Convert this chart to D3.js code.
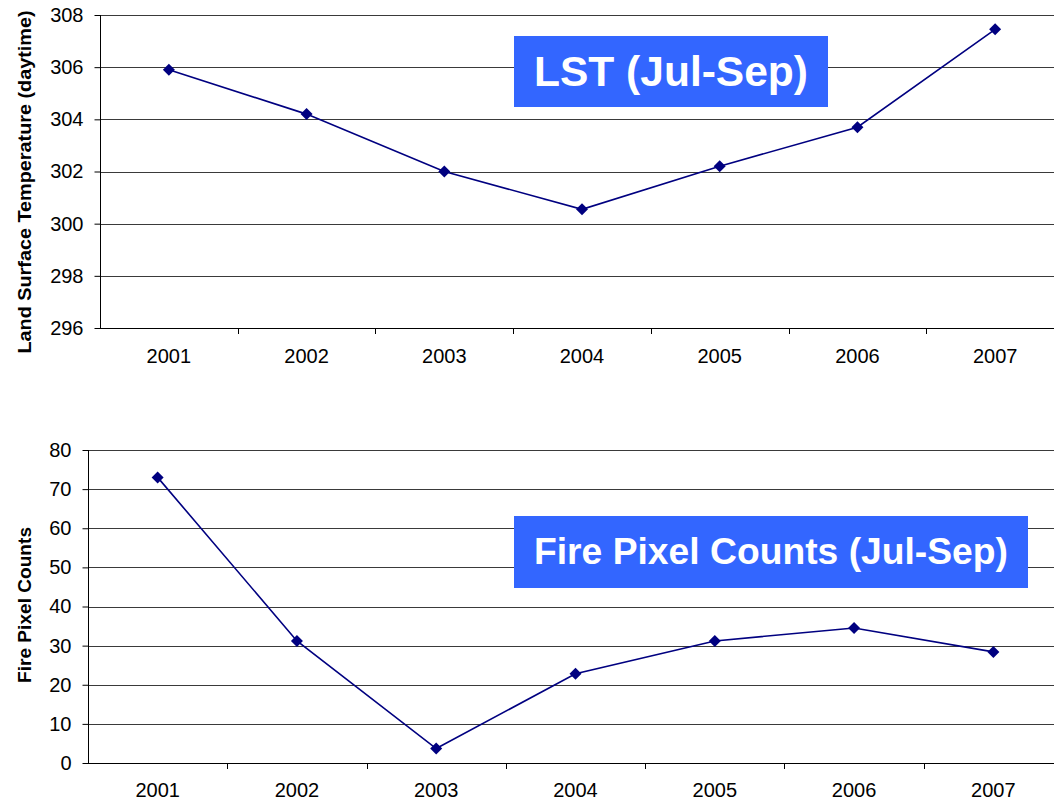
<!DOCTYPE html>
<html><head><meta charset="utf-8">
<script src="https://cdn.jsdelivr.net/npm/d3@7"></script>
<style>body{margin:0;background:#fff;overflow:hidden}</style>
</head><body>
<svg id="c" width="1054" height="805"></svg>
<script>
const years = ["2001","2002","2003","2004","2005","2006","2007"];
const lstValues = [305.9, 304.2, 302.0, 300.55, 302.2, 303.7, 307.45];
const fireValues = [73.0, 31.2, 3.7, 22.8, 31.2, 34.5, 28.4];
const lstTicks = [296, 298, 300, 302, 304, 306, 308];
const fireTicks = [0, 10, 20, 30, 40, 50, 60, 70, 80];

const svg = d3.select("#c");
const FONT = "'Liberation Sans', Arial, sans-serif";

function panel(opt) {
  const x = d3.scaleBand().domain(years).range([opt.left, opt.right]);
  const y = d3.scaleLinear().domain(opt.domain).range([opt.bottom, opt.top]);
  const g = svg.append("g");
  // gridlines
  g.selectAll("line.grid").data(opt.ticks.filter(t => t !== opt.domain[0])).join("line")
    .attr("x1", opt.left).attr("x2", opt.right)
    .attr("y1", d => Math.round(y(d)) + 0.5).attr("y2", d => Math.round(y(d)) + 0.5)
    .attr("stroke", "#3a3a3a").attr("stroke-width", 1);
  // y axis
  const ya = g.append("g").attr("transform", `translate(${opt.left + 0.5},0)`)
    .call(d3.axisLeft(y).tickValues(opt.ticks).tickSize(6).tickPadding(11).tickFormat(d3.format("d")));
  ya.select(".domain").attr("stroke", "#000").attr("d", `M0,${opt.bottom}V${opt.top}`);
  ya.selectAll(".tick line").attr("stroke", "#000");
  ya.selectAll("text").attr("font-family", FONT).attr("font-size", 20).attr("fill", "#000");
  // x axis
  const xa = g.append("g").attr("transform", `translate(0,${Math.round(opt.bottom) + 0.5})`)
    .call(d3.axisBottom(x).tickSize(0).tickPadding(opt.xPad));
  xa.select(".domain").attr("stroke", "#000").attr("stroke-width", 1.2).attr("d", `M${opt.left},0H${opt.right}`);
  xa.selectAll("text").attr("font-family", FONT).attr("font-size", 20).attr("fill", "#000");
  // x tick marks at band boundaries
  g.selectAll("line.xt").data(years.slice(1)).join("line")
    .attr("x1", d => Math.round(x(d)) + 0.5).attr("x2", d => Math.round(x(d)) + 0.5)
    .attr("y1", opt.bottom).attr("y2", opt.bottom + 6)
    .attr("stroke", "#000");
  // line
  const cx = d => x(d) + x.bandwidth() / 2;
  g.append("path").datum(opt.values)
    .attr("d", d3.line().x((d, i) => cx(years[i])).y(d => y(d)))
    .attr("fill", "none").attr("stroke", "#000080").attr("stroke-width", 1.6);
  g.selectAll("path.m").data(opt.values).join("path")
    .attr("d", d3.symbol(d3.symbolSquare, 72))
    .attr("transform", (d, i) => `translate(${cx(years[i])},${y(d)}) rotate(45)`)
    .attr("fill", "#000080");
  // y title
  g.append("text").attr("transform", `translate(${opt.titleX},${opt.titleY}) rotate(-90)`)
    .attr("text-anchor", "middle").attr("font-family", FONT).attr("font-weight", "bold")
    .attr("font-size", 19).attr("fill", "#000")
    .attr("textLength", opt.titleLen).attr("lengthAdjust", "spacingAndGlyphs")
    .text(opt.title);
  // label box
  g.append("rect").attr("x", opt.box[0]).attr("y", opt.box[1]).attr("width", opt.box[2]).attr("height", opt.box[3])
    .attr("fill", "#3366FF");
  g.append("text").attr("x", opt.box[0] + opt.box[2] / 2).attr("y", opt.labelY)
    .attr("text-anchor", "middle").attr("font-family", FONT).attr("font-weight", "bold")
    .attr("font-size", opt.labelSize).attr("fill", "#fff")
    .attr("textLength", opt.labelLen).attr("lengthAdjust", "spacingAndGlyphs")
    .text(opt.label);
}

panel({left: 100, right: 1064, top: 15, bottom: 328, domain: [296, 308], ticks: lstTicks,
  values: lstValues, xPad: 20, title: "Land Surface Temperature (daytime)",
  titleX: 31, titleY: 182, titleLen: 343, box: [514, 36, 314, 71], label: "LST (Jul-Sep)",
  labelY: 86, labelSize: 42, labelLen: 274});
panel({left: 88, right: 1063, top: 450, bottom: 763, domain: [0, 80], ticks: fireTicks,
  values: fireValues, xPad: 19, title: "Fire Pixel Counts",
  titleX: 31, titleY: 605, titleLen: 156, box: [514, 516, 514, 72], label: "Fire Pixel Counts (Jul-Sep)",
  labelY: 564, labelSize: 37.5, labelLen: 474});
</script>
</body></html>
